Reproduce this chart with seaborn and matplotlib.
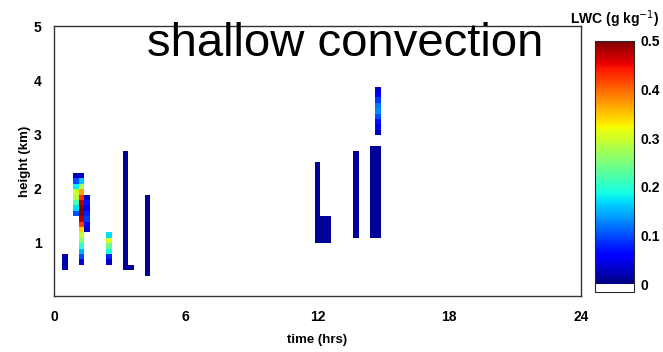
import numpy as np
import pandas as pd
import matplotlib
matplotlib.use("Agg")
import matplotlib.pyplot as plt
from matplotlib.colors import ListedColormap
import seaborn as sns

################################################################################
# uniform (weak) blocks: time of column (hrs), lowest / highest cell centre (km), LWC
block_time   = [0.5, 3.25, 3.5, 4.25, 12.0, 12.25, 12.5, 13.75, 14.5, 14.75]
block_bottom = [0.53, 0.53, 0.53, 0.43, 1.03, 1.03, 1.03, 1.13, 1.13, 1.13]
block_top    = [0.73, 2.63, 0.53, 1.83, 2.43, 1.43, 1.43, 2.63, 2.73, 2.73]
block_lwc    = [0.02, 0.01, 0.01, 0.01, 0.01, 0.01, 0.01, 0.01, 0.01, 0.01]

# profiles with structure: time (hrs), top cell centre (km), LWC from top down
profile_time = [1.0, 1.25, 1.5, 2.5, 14.75]
profile_top  = [2.23, 2.23, 1.83, 1.13, 3.83]
profile_lwc  = [
    [0.03, 0.10, 0.18, 0.30, 0.28, 0.22, 0.17, 0.10],
    [0.03, 0.16, 0.28, 0.37, 0.43, 0.48, 0.50, 0.50, 0.48,
     0.42, 0.34, 0.29, 0.25, 0.20, 0.15, 0.10, 0.04],
    [0.03, 0.07, 0.05, 0.08, 0.09, 0.06, 0.03],
    [0.17, 0.31, 0.24, 0.19, 0.08, 0.03],
    [0.03, 0.06, 0.09, 0.12, 0.13, 0.10, 0.07, 0.05, 0.03],
]

xticks = [0, 6, 12, 18, 24]
yticks = [1, 2, 3, 4, 5]
cticks = [0, 0.1, 0.2, 0.3, 0.4, 0.5]

################################################################################
rows = []
for t, lo, hi, v in zip(block_time, block_bottom, block_top, block_lwc):
    n = int(round((hi - lo) / 0.1)) + 1
    for i in range(n):
        rows.append((t, round(lo + 0.1 * i, 2), v))
for t, top, vals in zip(profile_time, profile_top, profile_lwc):
    for i, v in enumerate(vals):
        rows.append((t, round(top - 0.1 * i, 2), v))
df = pd.DataFrame(rows, columns=["time", "height", "lwc"])

# jet with a white band below zero
jet = plt.get_cmap("jet")(np.linspace(0, 1, 256))
cmap = ListedColormap(np.vstack([np.ones((8, 4)), jet]))
vmin = -0.5 * 8 / 256

sns.set_style("white")
plt.rcParams["font.family"] = ["Liberation Sans", "DejaVu Sans"]
plt.rcParams["text.color"] = "black"
plt.rcParams["axes.labelcolor"] = "black"
plt.rcParams["xtick.color"] = "black"
plt.rcParams["ytick.color"] = "black"

fig = plt.figure(figsize=(6.63, 3.52), dpi=100)
ax = fig.add_axes([0.0814, 0.159, 0.795, 0.767])
cax = fig.add_axes([0.898, 0.171, 0.058, 0.713])

sns.histplot(data=df, x="time", y="height", weights="lwc",
             binwidth=(0.25, 0.1), binrange=((-0.125, 24.125), (0.08, 4.98)),
             cmap=cmap, vmin=vmin, vmax=0.5,
             cbar=True, cbar_ax=cax, ax=ax)

ax.set_xlim(0, 24)
ax.set_ylim(0, 5)
ax.set_xticks(xticks)
ax.set_yticks(yticks)
ax.tick_params(direction="in", length=5, width=1, labelsize=10, pad=10)
ax.tick_params(axis="y", pad=9)
for lab in ax.get_xticklabels() + ax.get_yticklabels():
    lab.set_fontweight("bold")
ax.set_xlabel("time (hrs)", fontsize=9.5, fontweight="bold", labelpad=7)
ax.set_ylabel("height (km)", fontsize=9.5, fontweight="bold", labelpad=2)
for s in ax.spines.values():
    s.set_visible(True)
    s.set_color("#333333")
    s.set_linewidth(1)
ax.grid(False)

ax.text(0.552, 0.935, "shallow convection", transform=ax.transAxes,
        ha="center", va="center", fontsize=34, color="black")

cax.set_yticks(cticks)
cax.set_yticklabels(["0", "0.1", "0.2", "0.3", "0.4", "0.5"])
cax.tick_params(length=0, labelsize=10, pad=5)
for lab in cax.get_yticklabels():
    lab.set_fontweight("bold")
cax.set_title("LWC (g kg$^{-1}$)", fontsize=10, fontweight="bold", pad=12)

fig.savefig("out.png", dpi=100)
